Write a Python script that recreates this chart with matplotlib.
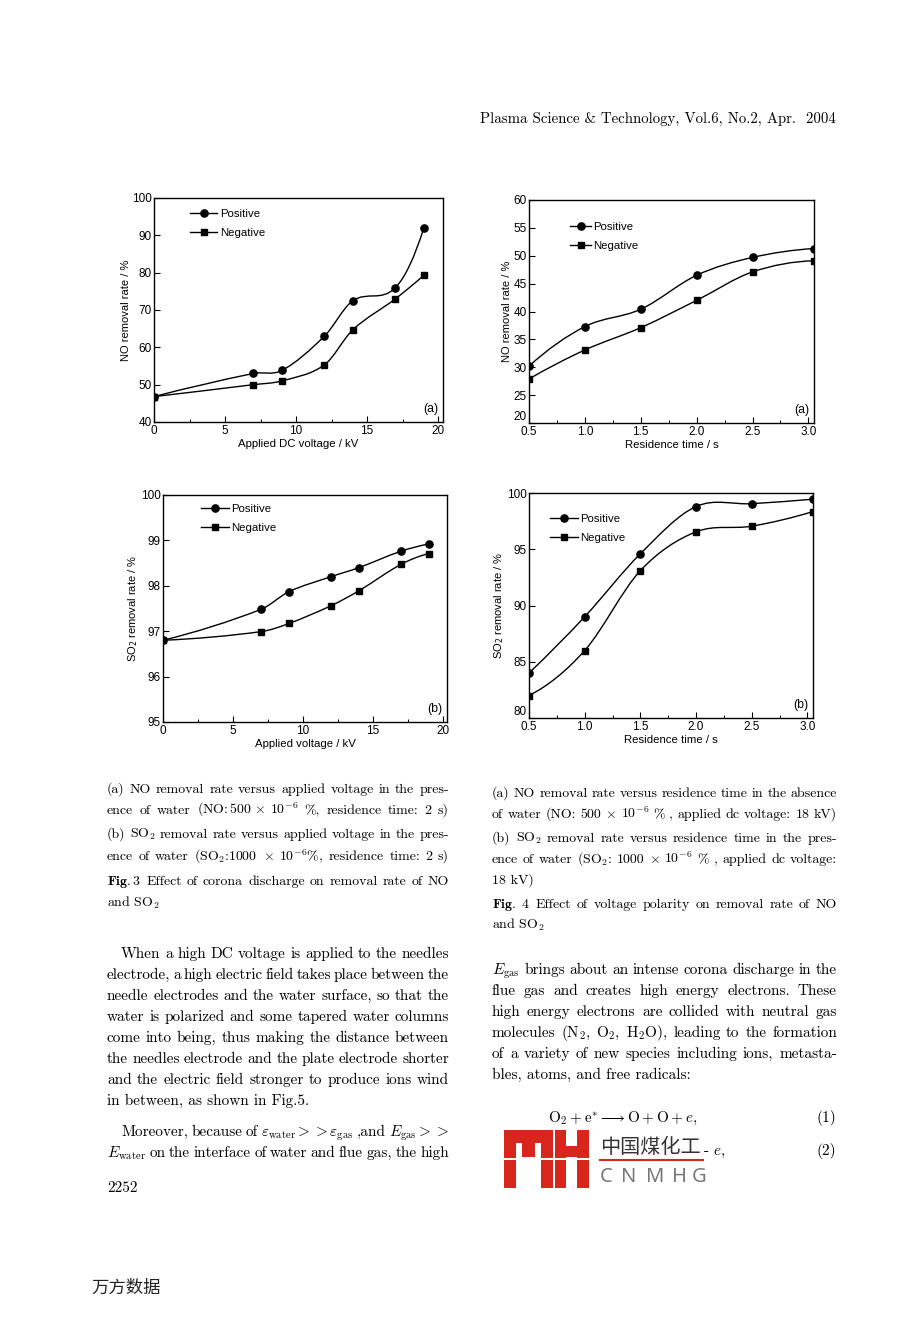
import numpy as np
import matplotlib
matplotlib.use('Agg')
import matplotlib.pyplot as plt
from matplotlib.path import Path
from matplotlib.patches import PathPatch, Rectangle
from matplotlib.lines import Line2D
from matplotlib.ticker import MultipleLocator

W, H = 904, 1320

# ---- data ----
volt_no = [0, 7, 9, 12, 14, 17, 19]
no_pos_v = [46.8, 53.0, 53.8, 63.0, 72.5, 76.0, 92.0]
no_neg_v = [46.8, 50.0, 51.0, 55.3, 64.7, 73.0, 79.3]

time_no = [0.5, 1.0, 1.5, 2.0, 2.5, 3.05]
no_pos_t = [30.2, 37.3, 40.4, 46.5, 49.7, 51.3]
no_neg_t = [27.9, 33.1, 37.1, 42.0, 47.1, 49.1]

volt_so2 = [0, 7, 9, 12, 14, 17, 19]
so2_pos_v = [96.8, 97.48, 97.87, 98.2, 98.4, 98.76, 98.92]
so2_neg_v = [96.8, 96.99, 97.17, 97.56, 97.89, 98.47, 98.71]

time_so2 = [0.5, 1.0, 1.5, 2.0, 2.5, 3.05]
so2_pos_t = [84.0, 89.0, 94.6, 98.8, 99.05, 99.45]
so2_neg_t = [82.0, 86.0, 93.1, 96.55, 97.05, 98.35]

series_labels = ['Positive', 'Negative']

SANS = ['Liberation Sans']
SERIF = ['cmr10', 'DejaVu Serif']
plt.rcParams['mathtext.fontset'] = 'cm'
plt.rcParams['font.family'] = SANS

fig = plt.figure(figsize=(W / 100, H / 100), dpi=100)
fig.patch.set_facecolor('white')


def smooth(ax, x, y):
    # cubic hermite curve through the points, drawn as bezier path
    x = np.asarray(x, float)
    y = np.asarray(y, float)
    sec = np.diff(y) / np.diff(x)
    m = np.empty_like(x)
    m[1:-1] = (y[2:] - y[:-2]) / (x[2:] - x[:-2])
    m[0] = 2 * sec[0] - m[1]
    m[-1] = 2 * sec[-1] - m[-2]
    verts = [(x[0], y[0])]
    codes = [Path.MOVETO]
    for i in range(len(x) - 1):
        d = (x[i + 1] - x[i]) / 3
        verts += [(x[i] + d, y[i] + m[i] * d),
                  (x[i + 1] - d, y[i + 1] - m[i + 1] * d),
                  (x[i + 1], y[i + 1])]
        codes += [Path.CURVE4] * 3
    ax.add_patch(PathPatch(Path(verts, codes), fill=False, lw=1.0, ec='black'))


raised = []


def panel(box, x, ypos, yneg, xlim, ylim, ystep, xmaj, xmin, xlabel, ylabel, tag, leg, hlen, raise_first):
    l, t, r, b = box
    ax = fig.add_axes([l / W, 1 - b / H, (r - l) / W, (b - t) / H])
    smooth(ax, x, ypos)
    smooth(ax, x, yneg)
    ax.plot(x, ypos, 'o', color='black', ms=5.2)
    ax.plot(x, yneg, 's', color='black', ms=4.6)
    ax.set_xlim(*xlim)
    ax.set_ylim(*ylim)
    ax.yaxis.set_major_locator(MultipleLocator(ystep))
    ax.xaxis.set_major_locator(MultipleLocator(xmaj))
    ax.xaxis.set_minor_locator(MultipleLocator(xmin))
    ax.tick_params(direction='in', length=4, width=0.8, pad=1.5, labelsize=8.5)
    ax.tick_params(axis='x', pad=2.5)
    ax.tick_params(which='minor', direction='in', length=2, width=0.7)
    for s in ax.spines.values():
        s.set_linewidth(1.0)
    ax.set_xlabel(xlabel, fontsize=8.2, labelpad=1)
    ax.set_ylabel(ylabel, fontsize=8.0, labelpad=1, math_fontfamily='dejavusans')
    if raise_first:
        raised.append((ax, ylim[0]))
    ax.text(0.985, 0.03, tag, transform=ax.transAxes, ha='right', va='bottom', fontsize=8.8)
    handles = [Line2D([], [], color='black', lw=1.0, marker='o', ms=5.2),
               Line2D([], [], color='black', lw=1.0, marker='s', ms=4.6)]
    ax.legend(handles, series_labels, loc='upper left', bbox_to_anchor=leg,
              frameon=False, fontsize=8.2, handlelength=hlen, handletextpad=0.2,
              labelspacing=0.75, borderpad=0, borderaxespad=0)
    return ax


panel((154, 198, 443, 422), volt_no, no_pos_v, no_neg_v, (0, 20.35), (40, 100), 10, 5, 2.5,
      'Applied DC voltage / kV', 'NO removal rate / %', '(a)', (0.125, 0.95), 2.4, False)
panel((529, 200, 814, 423), time_no, no_pos_t, no_neg_t, (0.5, 3.05), (20, 60), 5, 0.5, 0.25,
      'Residence time / s', 'NO removal rate / %', '(a)', (0.145, 0.9), 1.8, True)
panel((163, 495, 447, 722), volt_so2, so2_pos_v, so2_neg_v, (0, 20.3), (95, 100), 1, 5, 2.5,
      'Applied voltage / kV', 'SO$_2$ removal rate / %', '(b)', (0.135, 0.96), 2.4, False)
panel((529, 493, 813, 718), time_so2, so2_pos_t, so2_neg_t, (0.5, 3.05), (80, 100), 5, 0.5, 0.25,
      'Residence time / s', 'SO$_2$ removal rate / %', '(b)', (0.075, 0.905), 2.4, True)

# ---- page text ----
pg = fig.add_axes([0, 0, 1, 1])
pg.set_xlim(0, W)
pg.set_ylim(H, 0)
pg.set_axis_off()
rend = fig.canvas.get_renderer()


def line(x0, x1, y, s, size, justify=True):
    if not justify:
        pg.text(x0, y, s, fontsize=size, family=SERIF, va='baseline', ha='left')
        return
    words = s.split()
    objs = [pg.text(0, y, w, fontsize=size, family=SERIF, va='baseline', ha='left') for w in words]
    ws = [o.get_window_extent(renderer=rend).width for o in objs]
    gap = (x1 - x0 - sum(ws)) / (len(objs) - 1)
    x = x0
    for o, w in zip(objs, ws):
        o.set_x(x)
        x += w + gap


pg.text(836, 123, 'Plasma Science & Technology, Vol.6, No.2, Apr.  2004',
        fontsize=10.7, family=SERIF, ha='right', va='baseline')

CAP = 10.0
cap_left = [
    (r'(a) NO removal rate versus applied voltage in the pres-', True),
    (r'ence of water (NO:$\,$500$\,\times\,$10$^{-6}$ %, residence time: 2 s)', True),
    (r'(b) SO$_2$ removal rate versus applied voltage in the pres-', True),
    (r'ence of water (SO$_2$:1000 $\times$ 10$^{-6}$%, residence time: 2 s)', True),
    (r'$\mathbf{Fig.3}$   Effect of corona discharge on removal rate of NO', True),
    (r'and SO$_2$', False),
]
cap_left_y = [793, 814, 838, 860, 885, 907]
for (s, j), y in zip(cap_left, cap_left_y):
    line(107, 449, y, s, CAP, j)

cap_right = [
    (r'(a) NO removal rate versus residence time in the absence', True),
    (r'of water (NO: 500 $\times$ 10$^{-6}$ % , applied dc voltage: 18 kV)', True),
    (r'(b) SO$_2$ removal rate versus residence time in the pres-', True),
    (r'ence of water (SO$_2$: 1000 $\times$ 10$^{-6}$ % , applied dc voltage:', True),
    (r'18 kV)', False),
    (r'$\mathbf{Fig.\;4}$   Effect of voltage polarity on removal rate of NO', True),
    (r'and SO$_2$', False),
]
cap_right_y = [797, 818, 842, 863, 884, 908, 929]
for (s, j), y in zip(cap_right, cap_right_y):
    line(492, 837, y, s, CAP, j)

BODY = 11.0
body_left = [
    ('When a high DC voltage is applied to the needles', True, 14),
    ('electrode, a high electric field takes place between the', True, 0),
    ('needle electrodes and the water surface, so that the', True, 0),
    ('water is polarized and some tapered water columns', True, 0),
    ('come into being, thus making the distance between', True, 0),
    ('the needles electrode and the plate electrode shorter', True, 0),
    ('and the electric field stronger to produce ions wind', True, 0),
    ('in between, as shown in Fig.5.', False, 0),
    (r'Moreover, because of $\varepsilon_{\mathrm{water}}>>\varepsilon_{\mathrm{gas}}$ ,and $E_{\mathrm{gas}}>>$', True, 14),
    (r'$E_{\mathrm{water}}$ on the interface of water and flue gas, the high', True, 0),
]
body_left_y = [958, 979, 1000, 1021, 1042, 1063, 1084, 1105, 1136, 1157]
for (s, j, ind), y in zip(body_left, body_left_y):
    line(107 + ind, 449, y, s, BODY, j)
line(107, 449, 1192, '2252', BODY, False)

body_right = [
    (r'$E_{\mathrm{gas}}$ brings about an intense corona discharge in the', True),
    ('flue gas and creates high energy electrons.  These', True),
    ('high energy electrons are collided with neutral gas', True),
    (r'molecules (N$_2$, O$_2$, H$_2$O), leading to the formation', True),
    ('of a variety of new species including ions, metasta-', True),
    ('bles, atoms, and free radicals:', False),
]
body_right_y = [974, 995, 1016, 1037, 1058, 1079]
for (s, j), y in zip(body_right, body_right_y):
    line(492, 837, y, s, BODY, j)

# equations
pg.text(623, 1122, r'$\mathrm{O}_2+\mathrm{e}^{*}\longrightarrow\mathrm{O}+\mathrm{O}+e,$',
        fontsize=BODY, ha='center', va='baseline')
pg.text(836, 1122, '(1)', fontsize=BODY, family=SERIF, ha='right', va='baseline')
pg.text(836, 1155, '(2)', fontsize=BODY, family=SERIF, ha='right', va='baseline')
pg.text(703, 1155, r'- $e$,', fontsize=BODY, family=SERIF, ha='left', va='baseline')

# watermark logo
red = '#d9261c'
for (x0, y0, x1, y1) in [(504, 1130, 553, 1143), (504, 1130, 516, 1188), (541, 1130, 553, 1188),
                         (522, 1130, 535, 1157), (555, 1130, 566, 1188), (577, 1130, 589, 1188),
                         (555, 1146, 589, 1157)]:
    pg.add_patch(Rectangle((x0, y0), x1 - x0, y1 - y0, color=red, lw=0))
pg.add_patch(Rectangle((503, 1157.5), 88, 2, color='white', lw=0))
pg.text(600, 1153, '中国煤化工', fontsize=14.5, family=['Noto Sans CJK SC'], color='#333333',
        ha='left', va='baseline')
pg.plot([600, 703], [1159.5, 1159.5], color=red, lw=1.5)
for ch, xc in zip('CNMHG', [606, 629, 655, 680, 699]):
    pg.text(xc, 1182, ch, fontsize=14.5, family=['Noto Sans'], color='#777777', fontweight='light',
            ha='center', va='baseline')

pg.text(91, 1293, '万方数据', fontsize=12.5, family=['Noto Sans CJK SC'], color='#222222',
        ha='left', va='baseline')

# lift the lowest y tick label on the right panels so it clears the x labels
fig.canvas.draw()
for ax, y0 in raised:
    for tk in ax.yaxis.get_major_ticks():
        if np.isclose(tk.get_loc(), y0):
            tk.label1.set_va('bottom')

fig.savefig('out.png', dpi=100)
